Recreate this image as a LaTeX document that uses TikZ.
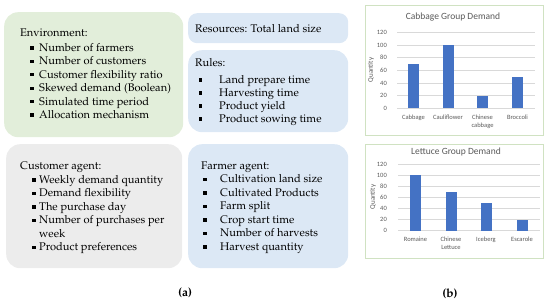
\documentclass[tikz,border=0pt]{standalone}
\usepackage[T1]{fontenc}
\usepackage{fontspec}
\newfontfamily\calib{Carlito}
\newcommand\pala{\fontencoding{T1}\fontfamily{ppl}\selectfont}
\definecolor{envg}{RGB}{226,238,218}
\definecolor{boxb}{RGB}{220,232,245}
\definecolor{boxg}{RGB}{236,236,236}
\definecolor{chartb}{RGB}{208,226,194}
\definecolor{barb}{RGB}{68,114,196}
\definecolor{gridc}{RGB}{217,217,217}
\definecolor{labc}{RGB}{89,89,89}
\tikzset{
  panel/.style={rounded corners=14pt, anchor=north west, inner sep=0},
  txt/.style={anchor=base west, inner sep=0, font=\pala\fontsize{11.1}{13}\selectfont},
  bul/.style={fill=black, minimum size=3.2pt, inner sep=0},
  chartbox/.style={draw=chartb, line width=0.8pt, anchor=north west, inner sep=0},
  grid line/.style={draw=gridc, line width=0.5pt},
  tick/.style={anchor=east, inner sep=0, text=labc, font=\calib\fontsize{6.5}{7}\selectfont},
  cat/.style={anchor=center, inner sep=0, text=labc, align=center, font=\calib\fontsize{6.5}{8}\selectfont},
  ctitle/.style={anchor=center, inner sep=0, text=labc, font=\calib\fontsize{9.5}{10}\selectfont},
  bar/.style={fill=barb, draw=none},
  caplabel/.style={anchor=center, inner sep=0, font=\pala\bfseries\fontsize{12}{13}\selectfont},
}
\begin{document}
\begin{tikzpicture}[x=1pt,y=-1pt]
\useasboundingbox (0,0) rectangle (550,304);
% panels
\node[panel, fill=envg, minimum width=179pt, minimum height=125pt] (env) at (4,12) {};
\node[panel, rounded corners=9pt, fill=boxb, minimum width=160pt, minimum height=30pt] (res) at (188,13) {};
\node[panel, fill=boxb, minimum width=160pt, minimum height=82pt] (rules) at (188,50) {};
\node[panel, fill=boxg, minimum width=176pt, minimum height=124pt] (cust) at (6,144) {};
\node[panel, fill=boxb, minimum width=160pt, minimum height=124pt] (farm) at (188,144) {};
% Environment
\node[txt] (envh) at (20,36.5) {Environment:};
\foreach \t [count=\i, evaluate=\i as \yy using {48+13.4*(\i-1)}] in
 {Number of farmers, Number of customers, Customer flexibility ratio, Skewed demand (Boolean), Simulated time period, Allocation mechanism}{
  \node[bul] (envb\i) at (32,\yy) {};
  \node[txt] (envt\i) at (39,\yy+3.5) {\t};
}
% Resources
\node[txt] (resh) at (195,32.5) {Resources: Total land size};
% Rules
\node[txt] (rulh) at (195,66.5) {Rules:};
\foreach \t [count=\i, evaluate=\i as \yy using {80+13*(\i-1)}] in
 {Land prepare time, Harvesting time, Product yield, Product sowing time}{
  \node[bul] (rulb\i) at (200.5,\yy) {};
  \node[txt] (rult\i) at (219,\yy+3.5) {\t};
}
% Customer
\node[txt] (custh) at (20,169.5) {Customer agent:};
\foreach \t/\yy [count=\i] in
 {Weekly demand quantity/180, Demand flexibility/193.5, The purchase day/207, Number of purchases per/220.5, Product preferences/247.5}{
  \node[bul] (custb\i) at (34,\yy) {};
  \node[txt] (custt\i) at (39,\yy+3.5) {\t};
}
\node[txt] (custw) at (39,237.5) {week};
% Farmer
\node[txt] (farmh) at (201,169.5) {Farmer agent:};
\foreach \t [count=\i, evaluate=\i as \yy using {179.5+13.5*(\i-1)}] in
 {Cultivation land size, Cultivated Products, Farm split, Crop start time, Number of harvests, Harvest quantity}{
  \node[bul] (farmb\i) at (205,\yy) {};
  \node[txt] (farmt\i) at (220,\yy+3.5) {\t};
}
\node[caplabel] (capa) at (185,293) {(a)};
% Cabbage chart
\node[chartbox, minimum width=178pt, minimum height=130pt] (ch1) at (365,5) {};
\node[ctitle] (ch1t) at (453,17) {Cabbage Group Demand};
\foreach \v [count=\i] in {0,20,...,120}{
  \coordinate (c1l\i) at (397,108.3-0.6333*\v);
  \coordinate (c1r\i) at (535,108.3-0.6333*\v);
  \draw[grid line] (c1l\i) -- (c1r\i);
  \node[tick] (c1k\i) at (387,108.3-0.6333*\v) {\v};
}
\node[ctitle, font=\calib\fontsize{7}{8}\selectfont, rotate=90] (ch1q) at (371,70) {Quantity};
\foreach \x/\v/\l [count=\i] in {413.5/70/Cabbage, 448/100/Cauliflower, 482.5/20/Chinese\\cabbage, 517.5/50/Broccoli}{
  \coordinate (c1a\i) at (\x-5.5,108.3);
  \coordinate (c1b\i) at (\x+5.5,108.3-0.6333*\v);
  \fill[bar] (c1a\i) rectangle (c1b\i);
  \node[cat, anchor=north] (c1c\i) at (\x,115) {\l};
}
% Lettuce chart
\node[chartbox, minimum width=178pt, minimum height=114pt] (ch2) at (365,144) {};
\node[ctitle] (ch2t) at (456,151.5) {Lettuce Group Demand};
\foreach \v [count=\i] in {0,20,...,120}{
  \coordinate (c2l\i) at (398,230.7-0.5556*\v);
  \coordinate (c2r\i) at (540,230.7-0.5556*\v);
  \draw[grid line] (c2l\i) -- (c2r\i);
  \node[tick] (c2k\i) at (387,230.7-0.5556*\v) {\v};
}
\node[ctitle, font=\calib\fontsize{7}{8}\selectfont, rotate=90] (ch2q) at (373,197) {Quantity};
\foreach \x/\v/\l [count=\i] in {415.5/100/Romaine, 451/70/Chinese\\Lettuce, 486/50/Iceberg, 522/20/Escarole}{
  \coordinate (c2a\i) at (\x-5.5,230.7);
  \coordinate (c2b\i) at (\x+5.5,230.7-0.5556*\v);
  \fill[bar] (c2a\i) rectangle (c2b\i);
  \node[cat, anchor=north] (c2c\i) at (\x,236.5) {\l};
}
\node[caplabel] (capb) at (450,294) {(b)};
\end{tikzpicture}
\end{document}
